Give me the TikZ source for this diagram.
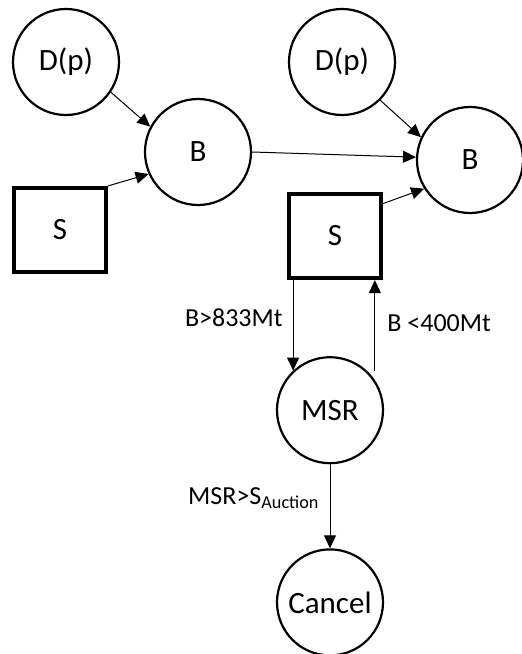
\documentclass[tikz,border=0pt]{standalone}
\usepackage{fontspec}
\setmainfont{Carlito}
\usetikzlibrary{arrows.meta,positioning}
\tikzset{
  circ/.style={draw, circle, line width=1.1pt, minimum size=53pt, inner sep=0pt,
               font=\fontsize{15.5}{18}\selectfont},
  sqbox/.style={draw, rectangle, line width=2.1pt, minimum width=46pt, minimum height=42pt,
                inner sep=0pt, font=\fontsize{15.5}{18}\selectfont},
  flow/.style={-{Triangle[length=6.5pt,width=6pt]}, line width=0.5pt},
  lbl/.style={font=\fontsize{13}{15}\selectfont, inner sep=0pt},
}
\begin{document}
\begin{tikzpicture}[x=0.5pt, y=-0.5pt]
  \useasboundingbox (0,0) rectangle (522,654);
  % left: without reserve
  \node[circ] (dp1) at (66,62) {D(p)};
  \node[circ] (b1) at (198,152) {B};
  \node[sqbox] (s1) at (60,230) {S};
  % right: with reserve
  \node[circ] (dp2) at (342,62) {D(p)};
  \node[circ] (b2) at (470,160) {B};
  \node[sqbox] (s2) at (335,236) {S};
  \node[circ, below=38pt of s2, xshift=-2.5pt] (msr) {MSR};
  \node[circ, below=42pt of msr] (cancel) {Cancel};
  \draw[flow] (dp1.-34) -- (b1.152);
  \draw[flow] (s1.north east) -- (b1.204);
  \draw[flow] (b1.east) -- (b2.177);
  \draw[flow] (dp2.-45) -- (b2.155);
  \draw[flow] (s2.34) -- (b2.212);
  \draw[flow] (s2.south -| msr.133) -- node[lbl, left=5pt, pos=0.42] {B>833Mt} (msr.133);
  \draw[flow] ([yshift=4.5pt]msr.34) -- node[lbl, right=6pt, pos=0.53] {B <400Mt} (msr.34 |- s2.south);
  \draw[flow] (msr.south) -- node[lbl, left=5pt, pos=0.4] {MSR>S\textsubscript{Auction}} (cancel.north);
\end{tikzpicture}
\end{document}
